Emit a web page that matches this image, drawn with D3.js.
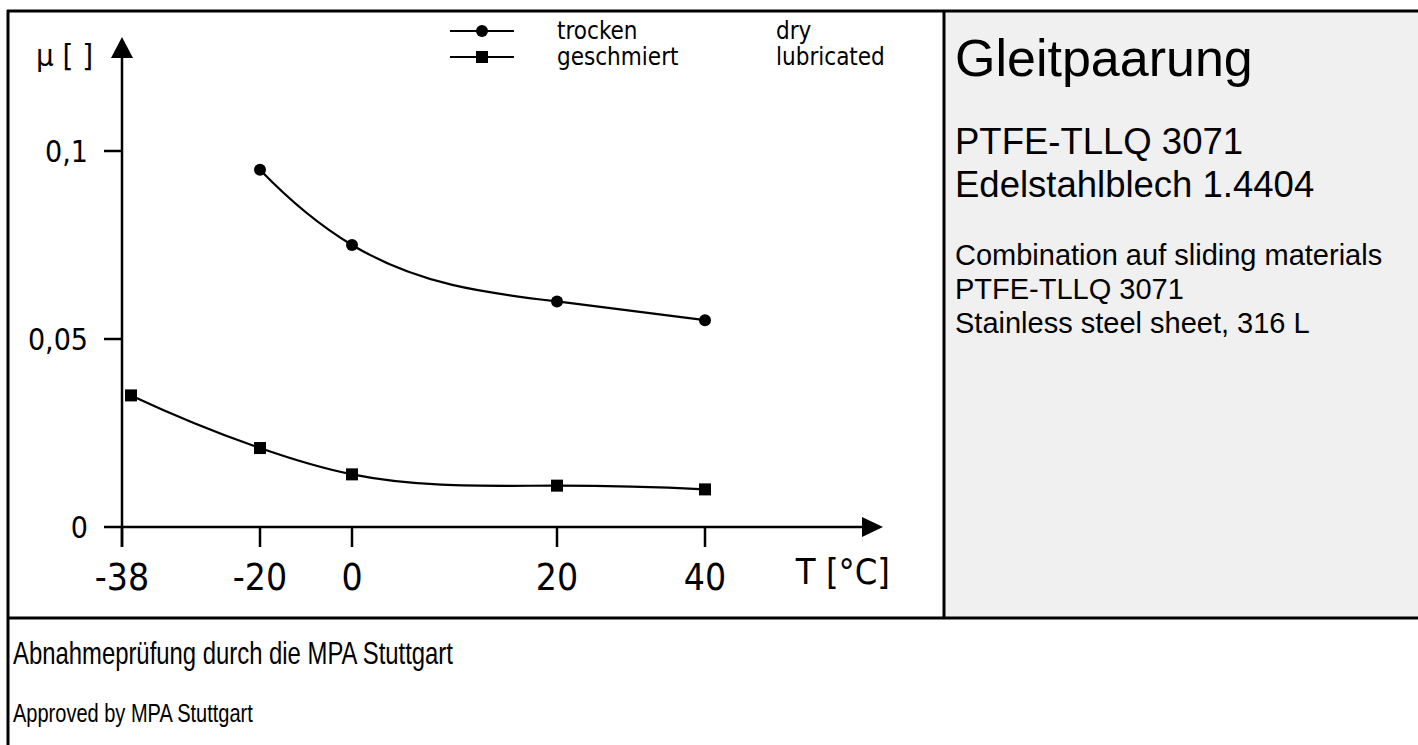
<!DOCTYPE html>
<html>
<head>
<meta charset="utf-8">
<script src="https://cdn.jsdelivr.net/npm/d3@7"></script>
<style>
  html,body{margin:0;padding:0;background:#fff;}
  svg{display:block;}
  .cond{font-family:"Liberation Sans Narrow","DejaVu Sans Condensed","Arial Narrow",sans-serif;}
  .sans{font-family:"Liberation Sans",Arial,sans-serif;}
</style>
</head>
<body>
<div id="chart"></div>
<script>
// ── data ─────────────────────────────────────────
const tempTicks   = [-38, -20, 0, 20, 40];
const tempLabels  = ["-38", "-20", "0", "20", "40"];
const muTicks     = [0, 0.05, 0.1];
const muLabels    = ["0", "0,05", "0,1"];

const dryTemp  = [-20, 0, 20, 40];
const dryMu    = [0.095, 0.075, 0.060, 0.055];
const lubTemp  = [-38, -20, 0, 20, 40];
const lubMu    = [0.035, 0.021, 0.014, 0.011, 0.010];

const legendDe = ["trocken", "geschmiert"];
const legendEn = ["dry", "lubricated"];

const panelTitle = "Gleitpaarung";
const panelDe    = ["PTFE-TLLQ 3071", "Edelstahlblech 1.4404"];
const panelEn    = ["Combination auf sliding materials", "PTFE-TLLQ 3071", "Stainless steel sheet, 316 L"];
const footer     = ["Abnahmeprüfung durch die MPA Stuttgart", "Approved by MPA Stuttgart"];

// cubic spline y(x) with parabolic run-out ends, as a d3 curve
// (x spacing is uneven, so the index-based curveNatural bends too hard)
function curveSplineX(context) {
  let xs, ys;
  return {
    areaStart() {}, areaEnd() {},
    lineStart() { xs = []; ys = []; },
    point(x, y) { xs.push(+x); ys.push(+y); },
    lineEnd() {
      const n = xs.length;
      if (!n) return;
      context.moveTo(xs[0], ys[0]);
      if (n < 3) { for (let i = 1; i < n; i++) context.lineTo(xs[i], ys[i]); return; }
      const h = [], s = [];
      for (let i = 0; i < n - 1; i++) { h.push(xs[i + 1] - xs[i]); s.push((ys[i + 1] - ys[i]) / h[i]); }
      // tridiagonal solve for second derivatives, M0 = M1, Mn-1 = Mn-2
      const M = new Array(n).fill(0), c = [], d = [];
      for (let i = 1; i < n - 1; i++) {
        const a = i === 1 ? 0 : h[i - 1];
        let b = 2 * (h[i - 1] + h[i]);
        if (i === 1) b += h[0];
        if (i === n - 2) b += h[n - 2];
        const cc = i === n - 2 ? 0 : h[i], r = 6 * (s[i] - s[i - 1]);
        const k = i === 1 ? b : b - a * c[i - 2];
        c.push(cc / k);
        d.push((r - (i === 1 ? 0 : a * d[i - 2])) / k);
      }
      for (let i = n - 2; i >= 1; i--) M[i] = d[i - 1] - (i < n - 2 ? c[i - 1] * M[i + 1] : 0);
      M[0] = M[1]; M[n - 1] = M[n - 2];
      const m = [];
      for (let i = 0; i < n - 1; i++) m.push(s[i] - h[i] * (2 * M[i] + M[i + 1]) / 6);
      m.push(s[n - 2] + h[n - 2] * (M[n - 2] + 2 * M[n - 1]) / 6);
      for (let i = 0; i < n - 1; i++) {
        const t = h[i] / 3;
        context.bezierCurveTo(xs[i] + t, ys[i] + m[i] * t, xs[i + 1] - t, ys[i + 1] - m[i + 1] * t, xs[i + 1], ys[i + 1]);
      }
    }
  };
}

// ── layout ───────────────────────────────────────
const W = 1418, H = 745;
const svg = d3.select("#chart").append("svg").attr("width", W).attr("height", H);

// the original x axis is not evenly spaced, so a piecewise scale
const x = d3.scaleLinear().domain(tempTicks).range([122, 260, 352, 557, 705]);
const y = d3.scaleLinear().domain([0, 0.1]).range([527, 151]);
const x0 = x(tempTicks[0]), yBase = y(0);

// frame
svg.append("rect").attr("x", 944).attr("y", 11).attr("width", W - 944).attr("height", 607).attr("fill", "#f0f0f0");
const frame = svg.append("g").attr("stroke", "#000").attr("stroke-width", 3);
frame.append("line").attr("x1", 7).attr("x2", W).attr("y1", 11).attr("y2", 11);
frame.append("line").attr("x1", 8).attr("x2", 8).attr("y1", 10).attr("y2", H);
frame.append("line").attr("x1", 944).attr("x2", 944).attr("y1", 10).attr("y2", 618);
frame.append("line").attr("x1", 7).attr("x2", W).attr("y1", 618).attr("y2", 618);

// axes
const ax = svg.append("g").attr("stroke", "#000").attr("stroke-width", 2.5);
ax.append("line").attr("x1", x0).attr("x2", x0).attr("y1", yBase + 20).attr("y2", 56);
ax.append("line").attr("x1", x0 - 18).attr("x2", 864).attr("y1", yBase).attr("y2", yBase);
svg.append("path").attr("d", `M${x0},37L${x0 - 11},58L${x0 + 11},58Z`).attr("fill", "#000");
svg.append("path").attr("d", `M883,${yBase}L862,${yBase - 10}L862,${yBase + 10}Z`).attr("fill", "#000");

// x ticks + labels
tempTicks.forEach((t, i) => {
  ax.append("line").attr("x1", x(t)).attr("x2", x(t)).attr("y1", yBase).attr("y2", yBase + 20);
  svg.append("text").attr("class", "cond").attr("x", x(t)).attr("y", 590)
    .attr("text-anchor", "middle").attr("font-size", 37).text(tempLabels[i]);
});
// y ticks + labels
muTicks.forEach((m, i) => {
  if (m > 0) ax.append("line").attr("x1", x0 - 18).attr("x2", x0).attr("y1", y(m)).attr("y2", y(m));
  svg.append("text").attr("class", "cond").attr("x", 88).attr("y", y(m) + 11)
    .attr("text-anchor", "end").attr("font-size", 30).text(muLabels[i]);
});

svg.append("text").attr("class", "cond").attr("x", 36).attr("y", 66).attr("font-size", 31).text("μ [ ]");
svg.append("text").attr("class", "cond").attr("x", 890).attr("y", 584).attr("text-anchor", "end")
  .attr("font-size", 36).text("T [°C]");

// curves
const px = d => Math.max(x(d[0]), x0 + 9);   // keep markers clear of the y axis
const line = d3.line().x(px).y(d => y(d[1])).curve(curveSplineX);
const dry = dryTemp.map((t, i) => [t, dryMu[i]]);
const lub = lubTemp.map((t, i) => [t, lubMu[i]]);

svg.append("path").attr("d", line(dry)).attr("fill", "none").attr("stroke", "#000").attr("stroke-width", 2.2);
svg.append("path").attr("d", line(lub)).attr("fill", "none").attr("stroke", "#000").attr("stroke-width", 2.2);

svg.selectAll(".dot").data(dry).join("circle").attr("class", "dot")
  .attr("cx", px).attr("cy", d => y(d[1])).attr("r", 6).attr("fill", "#000");
svg.selectAll(".sq").data(lub).join("rect").attr("class", "sq")
  .attr("x", d => px(d) - 6).attr("y", d => y(d[1]) - 6)
  .attr("width", 12).attr("height", 12).attr("fill", "#000");

// legend
const leg = svg.append("g");
[0, 1].forEach(i => {
  const ly = 31 + i * 26;
  leg.append("line").attr("x1", 450).attr("x2", 514).attr("y1", ly).attr("y2", ly)
    .attr("stroke", "#000").attr("stroke-width", 2);
  if (i === 0) leg.append("circle").attr("cx", 482).attr("cy", ly).attr("r", 6);
  else leg.append("rect").attr("x", 476).attr("y", ly - 6).attr("width", 12).attr("height", 12);
  leg.append("text").attr("class", "cond").attr("x", 557).attr("y", ly + 8).attr("font-size", 24).text(legendDe[i]);
  leg.append("text").attr("class", "cond").attr("x", 776).attr("y", ly + 8).attr("font-size", 24).text(legendEn[i]);
});

// right panel
svg.append("text").attr("class", "sans").attr("x", 955).attr("y", 76).attr("font-size", 52).text(panelTitle);
panelDe.forEach((s, i) => svg.append("text").attr("class", "sans")
  .attr("x", 955).attr("y", 154 + i * 43).attr("font-size", 36.5).text(s));
panelEn.forEach((s, i) => svg.append("text").attr("class", "sans")
  .attr("x", 955).attr("y", 265 + i * 34).attr("font-size", 29).text(s));

// footer (squeezed sans, as in the original)
svg.append("text").attr("class", "sans").attr("transform", "translate(13,664) scale(0.77,1)")
  .attr("font-size", 31).text(footer[0]);
svg.append("text").attr("class", "sans").attr("transform", "translate(13,722) scale(0.77,1)")
  .attr("font-size", 26).text(footer[1]);
</script>
</body>
</html>
